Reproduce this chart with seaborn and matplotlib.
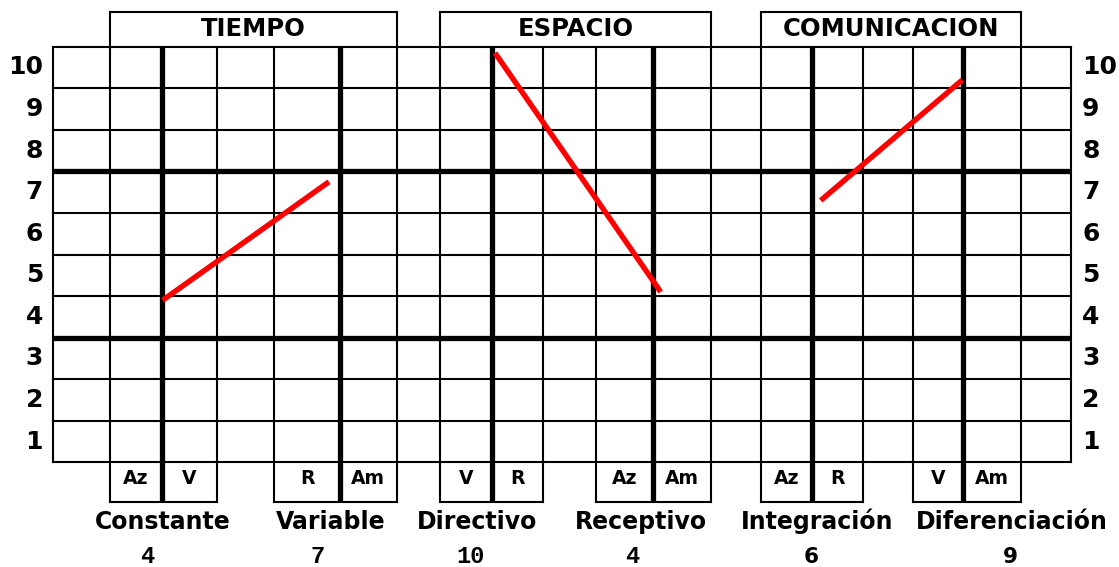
import numpy as np
import pandas as pd
import matplotlib
matplotlib.use('Agg')
import matplotlib.pyplot as plt
import seaborn as sns

sns.set_theme(style='white')
plt.rcParams['font.family'] = ['DejaVu Sans']

# ---- data ----
dimensions = ['TIEMPO', 'ESPACIO', 'COMUNICACION']
poles = ['Constante', 'Variable', 'Directivo', 'Receptivo', 'Integración', 'Diferenciación']
scores = ['4', '7', '10', '4', '6', '9']
# line end values as drawn on the grid (left pole, right pole)
line_start = [3.9, 9.85, 6.3]
line_end = [6.75, 4.1, 9.2]
cell_labels = [['Az', 'V', 'R', 'Am'],
               ['V', 'R', 'Az', 'Am'],
               ['Az', 'R', 'V', 'Am']]
row_labels = [str(i) for i in range(1, 11)]

# ---- layout (pixel-like x units, score units on y) ----
col_edges = [52.7, 110, 161.7, 217, 274, 340, 396.7, 440, 491.7, 543.3, 596,
             653.3, 711, 761, 812.3, 863.3, 913.3, 963.3, 1021, 1070.7]
thick_cols = [161.7, 340, 491.7, 653.3, 812.3, 963.3]
title_boxes = [(110, 396.7), (440, 711), (761, 1021)]
cell_boxes = [[(110, 161.7, 217), (274, 340, 396.7)],
              [(440, 491.7, 543.3), (596, 653.3, 711)],
              [(761, 812.3, 863.3), (913.3, 963.3, 1021)]]
line_x = [(162.7, 329), (495, 660.7), (820.7, 962.3)]
pole_x = [163, 331, 477, 641, 817, 1012]
score_x = [147, 318, 471, 632, 811, 1010]
thick_rows = [3, 7]

row_px = 41.56
fig = plt.figure(figsize=(11.19, 5.67), dpi=100)
ax = fig.add_axes([0, 0, 1, 1])

thin = 1.5
thick = 3.8
x0, x1 = col_edges[0], col_edges[-1]
box_bottom = -(502.3 - 462.3) / row_px
title_top = 10 + (46.7 - 12.3) / row_px

# horizontal grid lines
for r in range(11):
    if r in thick_rows:
        ax.hlines(r, x0, x1, color='black', lw=thick, capstyle='butt', zorder=3)
    else:
        ax.hlines(r, x0, x1, color='black', lw=thin, capstyle='projecting', zorder=2)

# vertical grid lines
for x in col_edges:
    if x in thick_cols:
        continue
    ax.vlines(x, 0, 10, color='black', lw=thin, capstyle='projecting', zorder=2)
for x in thick_cols:
    ax.vlines(x, box_bottom, 10, color='black', lw=thick, zorder=3)

# title boxes
for (a, b), name in zip(title_boxes, dimensions):
    ax.vlines([a, b], 10, title_top, color='black', lw=thin, capstyle='projecting')
    ax.hlines(title_top, a, b, color='black', lw=thin, capstyle='projecting')
    ax.text((a + b) / 2, 10 + (46.7 - 29.5) / row_px, name, ha='center', va='center',
            fontsize=17.5, fontweight='bold', color='black')

# small boxes under the grid
for boxes, labels in zip(cell_boxes, cell_labels):
    k = 0
    for a, m, b in boxes:
        ax.vlines([a, b], box_bottom, 0, color='black', lw=thin, capstyle='projecting')
        ax.hlines(box_bottom, a, b, color='black', lw=thin, capstyle='projecting')
        for c0, c1 in [(a, m), (m, b)]:
            ax.text((c0 + c1) / 2, -(479 - 462.3) / row_px, labels[k], ha='center',
                    va='center', fontsize=13.5, fontweight='bold', color='black')
            k += 1

# row labels both sides
for i, lab in enumerate(row_labels):
    y = i + 0.5
    ax.text(43, y, lab, ha='right', va='center', fontsize=18, fontweight='bold', color='black')
    ax.text(1082, y, lab, ha='left', va='center', fontsize=18, fontweight='bold', color='black')

# pole names and scores
for i, (p, s) in enumerate(zip(poles, scores)):
    ax.text(pole_x[i], -(521.7 - 462.3) / row_px, p, ha='center', va='center',
            fontsize=17, fontweight='bold', color='black')
    if i < 4:
        ax.text(score_x[i], -(556.7 - 462.3) / row_px, s, ha='center', va='center',
                fontsize=17, fontweight='bold', color='black', family=['Liberation Mono'])
    else:
        ax.text(score_x[i], -(556.7 - 462.3) / row_px, s, ha='center', va='center',
                fontsize=15.5, fontweight='bold', color='black')

# red profile lines
df = pd.DataFrame({
    'dim': np.repeat(dimensions, 2),
    'x': [v for pair in line_x for v in pair],
    'valor': [v for pair in zip(line_start, line_end) for v in pair],
})
sns.lineplot(data=df, x='x', y='valor', hue='dim', units='dim', estimator=None,
             palette={d: '#ff0000' for d in dimensions}, lw=3.9, legend=False,
             ax=ax, zorder=5, solid_capstyle='butt')
ax.set_xlim(0, 1119)
ax.set_ylim(-(567 - 462.3) / row_px, 10 + 46.7 / row_px)
ax.axis('off')

fig.savefig('out.png', dpi=100, facecolor='white')
